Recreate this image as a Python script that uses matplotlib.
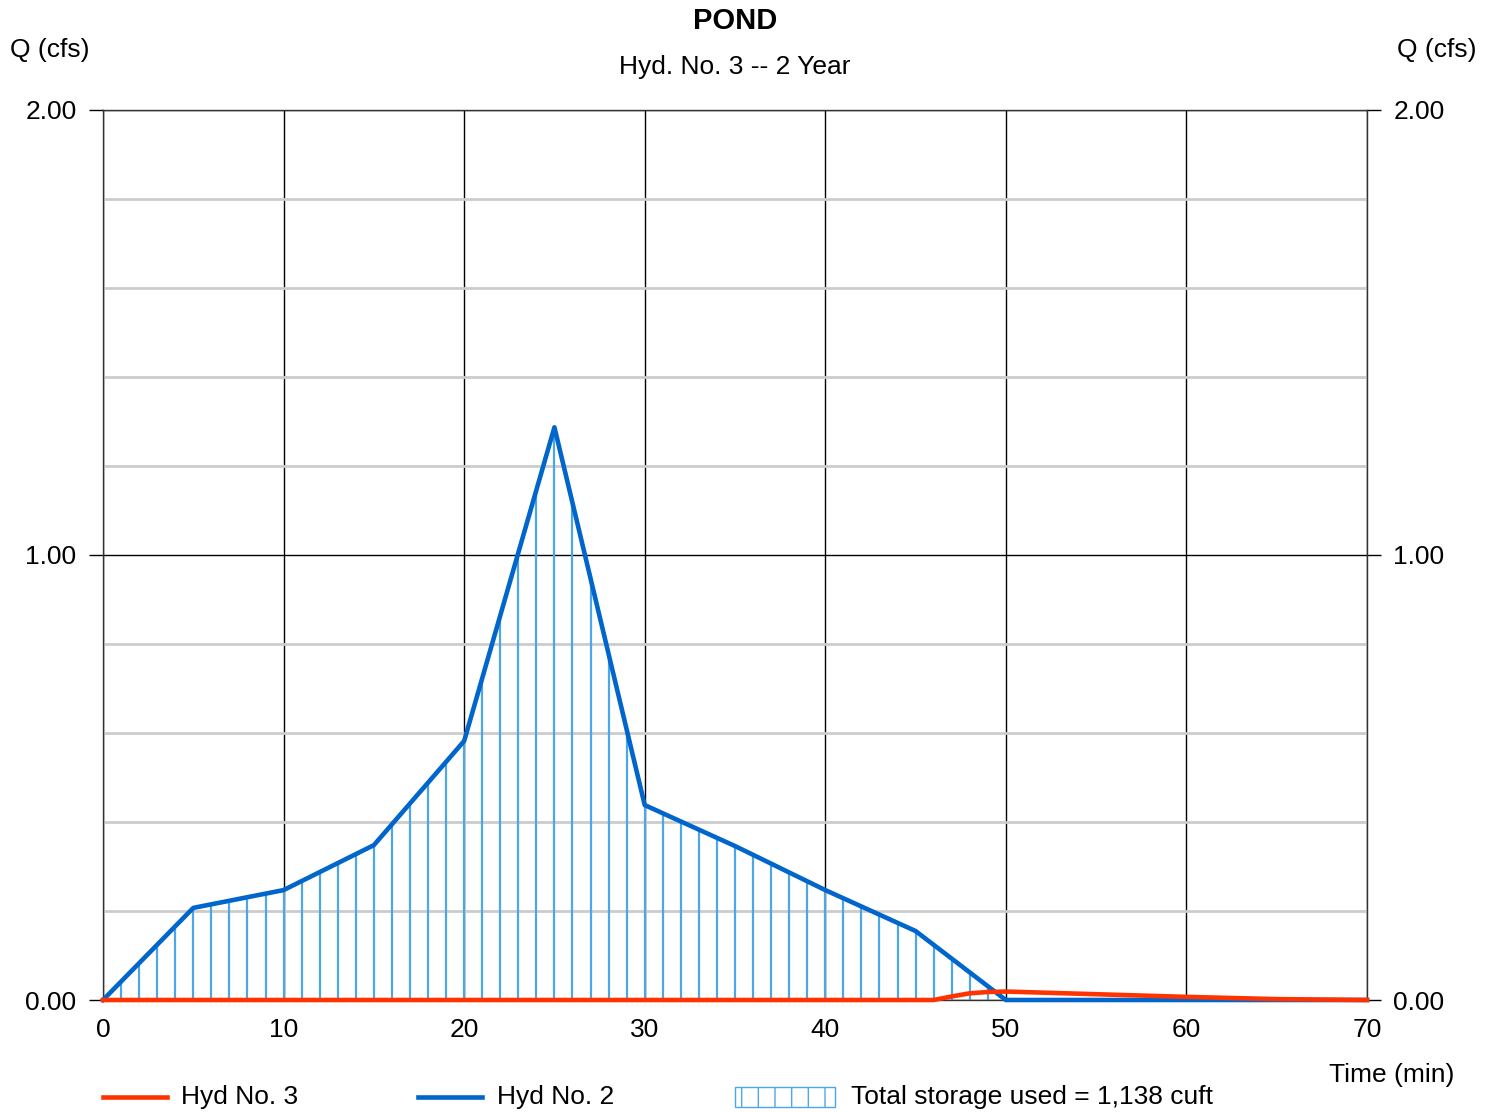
import numpy as np
import matplotlib.pyplot as plt
from matplotlib.lines import Line2D
from matplotlib.patches import Rectangle

plt.rcParams['font.family'] = ['Liberation Sans', 'DejaVu Sans']

# Hyd No. 2 (inflow)
t_in = [0, 5, 10, 15, 20, 25, 30, 35, 40, 45, 50, 70]
q_in = [0.0, 0.207, 0.247, 0.348, 0.582, 1.287, 0.438, 0.346, 0.247, 0.155, 0.0, 0.0]

# Hyd No. 3 (outflow)
t_out = [0, 46, 47, 48, 49, 50, 55, 60, 65, 70]
q_out = [0.0, 0.0, 0.008, 0.015, 0.018, 0.019, 0.013, 0.007, 0.002, 0.0]

x_ticks = [0, 10, 20, 30, 40, 50, 60, 70]
y_ticks = [0.0, 1.0, 2.0]

fs = 19

fig = plt.figure(figsize=(14.94, 11.12), dpi=100)
ax = fig.add_axes([103/1494, 112/1112, 1264/1494, 890/1112])

# storage hatch: vertical lines every minute under inflow curve
hx = np.arange(0, 51, 1)
hy = np.interp(hx, t_in, q_in)
ax.vlines(hx, 0, hy, color='#4da6e8', lw=1.6, zorder=2)

ax.plot(t_in, q_in, color='#0066cc', lw=3.3, zorder=3, clip_on=False)
ax.plot(t_out, q_out, color='#ff3300', lw=3.3, zorder=4, clip_on=False)

ax.set_xlim(0, 70)
ax.set_ylim(0, 2)
ax.set_xticks(x_ticks)
ax.set_yticks(y_ticks)
ax.set_yticks(np.arange(0.2, 2.0, 0.2), minor=True)
ax.set_yticklabels(['%.2f' % v for v in y_ticks])
ax.grid(True, which='major', color='black', lw=1, zorder=1)
ax.grid(True, which='minor', axis='y', color='#cccccc', lw=2, zorder=0)
ax.set_axisbelow(True)
ax.tick_params(axis='x', length=0, pad=13, labelsize=fs)
ax.tick_params(axis='y', which='major', direction='out', length=10, width=1,
               labelsize=fs, left=True, right=True, labelleft=True, labelright=True, pad=9)
ax.tick_params(axis='y', which='minor', length=0)
for s in ax.spines.values():
    s.set_color('#333333')
    s.set_linewidth(1)

fig.text(0.492, 0.981, 'POND', ha='center', va='center', fontsize=21, fontweight='bold')
fig.text(0.492, 0.940, 'Hyd. No. 3 -- 2 Year', ha='center', va='center', fontsize=fs)
fig.text(50/1494, 1 - 50/1112, 'Q (cfs)', ha='center', va='center', fontsize=fs)
fig.text(1437/1494, 1 - 50/1112, 'Q (cfs)', ha='center', va='center', fontsize=fs)
fig.text(1392/1494, 1 - 1075/1112, 'Time (min)', ha='center', va='center', fontsize=fs)

# legend along the bottom
ly = 1 - 1097/1112
fig.add_artist(Line2D([103/1494, 167/1494], [ly, ly], color='#ff3300', lw=3.3))
fig.text(181/1494, ly, 'Hyd No. 3', ha='left', va='center', fontsize=fs)
fig.add_artist(Line2D([418/1494, 482/1494], [ly, ly], color='#0066cc', lw=3.3))
fig.text(497/1494, ly, 'Hyd No. 2', ha='left', va='center', fontsize=fs)
plt.rcParams['hatch.color'] = '#4da6e8'
plt.rcParams['hatch.linewidth'] = 1.0
fig.add_artist(Rectangle((735/1494, 1 - 1107/1112), 100/1494, 20/1112, transform=fig.transFigure,
                         facecolor='white', edgecolor='#4da6e8', hatch='|', lw=1))
fig.text(851/1494, ly, 'Total storage used = 1,138 cuft', ha='left', va='center', fontsize=fs)

fig.savefig('out.png', dpi=100)
